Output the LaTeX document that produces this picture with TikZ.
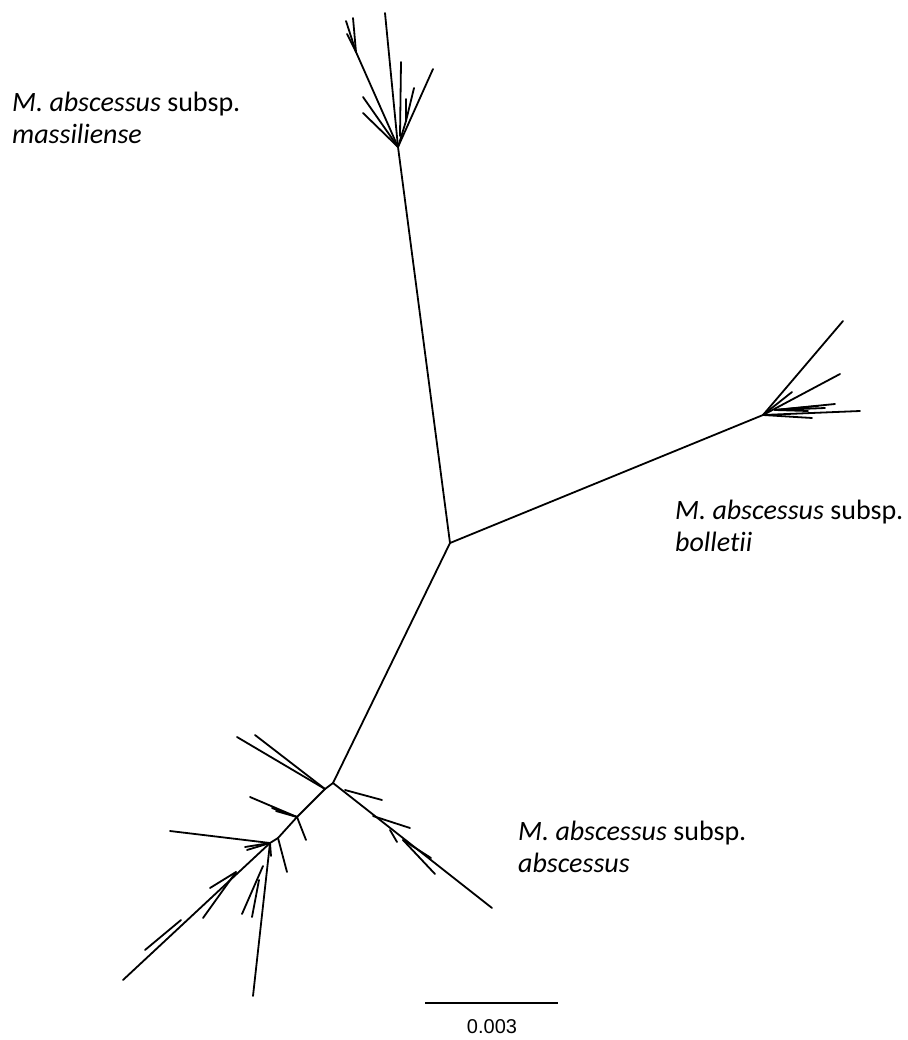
\documentclass[tikz,border=0pt]{standalone}
\usepackage{fontspec}
\setmainfont{Carlito}[Ligatures=NoCommon]
\newfontfamily\barfont{Liberation Sans}
\usetikzlibrary{positioning}

\begin{document}
\begin{tikzpicture}[
    x=1pt, y=-1pt,
    branch/.style={line width=1.8pt, line cap=round},
    clade/.style={font=\fontsize{28}{32}\selectfont, align=left, inner sep=0pt},
    scalelbl/.style={font=\barfont\fontsize{20}{22}\selectfont, inner sep=0pt},
]
\useasboundingbox (0,0) rectangle (907,1040);

% ========== BACKBONE ==========
\coordinate (ctr) at (450,543);
\coordinate (topb) at (398,147);
\coordinate (rgtb) at (763,415);
\coordinate (botb) at (333,783);
\draw[branch] (ctr) -- (topb);
\draw[branch] (ctr) -- (rgtb);
\draw[branch] (ctr) -- (botb);

% ========== TOP CLADE (massiliense) ==========
\coordinate (topL) at (356,52);
\coordinate (topR1) at (400,136);
\coordinate (topR2) at (406,121);
\draw[branch] (topb) -- (topL);
\draw[branch] (topb) -- (topR2);
\foreach \n/\x/\y in {ta/385/13, tb/363/97, tc/363/113, td/433/69}
    {\coordinate (\n) at (\x,\y); \draw[branch] (topb) -- (\n);}
\foreach \n/\x/\y in {te/346/21, tf/353/18, tg/347/34}
    {\coordinate (\n) at (\x,\y); \draw[branch] (topL) -- (\n);}
\coordinate (th) at (401,62);
\draw[branch] (topR1) -- (th);
\foreach \n/\x/\y in {ti/414/88, tj/406/99}
    {\coordinate (\n) at (\x,\y); \draw[branch] (topR2) -- (\n);}

% ========== RIGHT CLADE (bolletii) ==========
\coordinate (rgtm) at (775,410);
\foreach \n/\x/\y in {ra/843/321, rb/840/374, rc/792/392, rd/860/411, re/812/418}
    {\coordinate (\n) at (\x,\y); \draw[branch] (rgtb) -- (\n);}
\foreach \n/\x/\y in {rf/835/404, rg/825/408, rh/818/406, ri/808/411}
    {\coordinate (\n) at (\x,\y); \draw[branch] (rgtm) -- (\n);}

% ========== BOTTOM CLADE (abscessus) ==========
\coordinate (bUL) at (325,789);
\coordinate (bn1) at (297,817);
\coordinate (bn2) at (278,838);
\coordinate (bn3) at (270,843);
\draw[branch] (botb) -- (bUL) -- (bn1) -- (bn2) -- (bn3);
\foreach \n/\x/\y in {ba/237/737, bb/255/735}
    {\coordinate (\n) at (\x,\y); \draw[branch] (bUL) -- (\n);}

% down-right arm
\coordinate (bDR) at (492,908);
\draw[branch] (botb) -- (bDR);
\coordinate (dr1) at (345,790);
\coordinate (dr2) at (373,816);
\coordinate (dr3) at (390,830);
\coordinate (dr4) at (403,840);
\coordinate (bc) at (382,800);
\coordinate (bd) at (410,828);
\coordinate (be) at (397,842);
\coordinate (bf) at (435,874);
\coordinate (bg) at (431,858);
\draw[branch] (dr1) -- (bc);
\draw[branch] (dr2) -- (bd);
\draw[branch] (dr3) -- (be);
\draw[branch] (dr4) -- (bf);
\draw[branch] (dr4) -- (bg);

% inner nodes of the left arm
\coordinate (bh) at (250,797);
\coordinate (bi) at (306,840);
\coordinate (bj) at (287,872);
\draw[branch] (bn1) -- (bh);
\draw[branch] (bn1) -- (bi);
\draw[branch] (bn2) -- (bj);
\foreach \n/\x/\y in {bk/272/808, bl/276/811}
    {\coordinate (\n) at (\x,\y); \draw[branch] (bn1) -- (\n);}
\foreach \n/\x/\y in {bm/170/831, bn/245/847, bo/247/850, bp/271/856}
    {\coordinate (\n) at (\x,\y); \draw[branch] (bn3) -- (\n);}

% long arms
\coordinate (ll) at (123,980);
\coordinate (dd) at (253,996);
\draw[branch] (bn3) -- (ll);
\draw[branch] (bn3) -- (dd);
\coordinate (ll1) at (236,872);
\coordinate (ll2) at (181,920);
\coordinate (dd1) at (263,866);
\coordinate (dd2) at (259,880);
\foreach \n/\x/\y in {bq/203/918, br/210/888}
    {\coordinate (\n) at (\x,\y); \draw[branch] (ll1) -- (\n);}
\coordinate (bs) at (145,950);
\draw[branch] (ll2) -- (bs);
\coordinate (bt) at (242,914);
\coordinate (bu) at (252,917);
\draw[branch] (dd1) -- (bt);
\draw[branch] (dd2) -- (bu);

% ========== LABELS ==========
\node[clade, anchor=north west] (lblmas) at (12,92) {\textit{M. abscessus} subsp.\\\textit{massiliense}};
\node[clade, anchor=north west] (lblbol) at (675,500) {\textit{M. abscessus} subsp.\\\textit{bolletii}};
\node[clade, anchor=north west] (lblabs) at (518,821) {\textit{M. abscessus} subsp.\\\textit{abscessus}};

% ========== SCALE BAR ==========
\coordinate (sbl) at (425,1003);
\coordinate (sbr) at (558,1003);
\draw[line width=1.4pt] (sbl) -- (sbr);
\node[scalelbl] (sblbl) at (492,1027) {0.003};

\end{tikzpicture}
\end{document}
